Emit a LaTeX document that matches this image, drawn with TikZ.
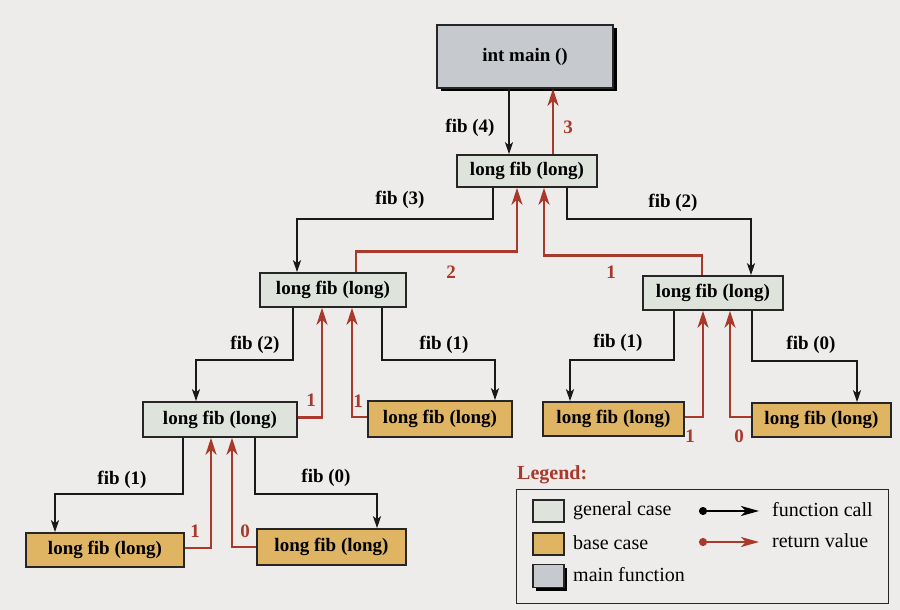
\documentclass[tikz,border=0pt]{standalone}
\usepackage{fontspec}
\setmainfont{Liberation Serif}
\usetikzlibrary{arrows.meta,shadows}
\definecolor{bgc}{HTML}{EDECEA}
\definecolor{retc}{HTML}{A8392B}
\definecolor{genc}{HTML}{DEE3DC}
\definecolor{basec}{HTML}{DFB564}
\definecolor{mainc}{HTML}{C6C9CD}
\tikzset{
  box/.style={draw=black!85, line width=1.6pt, inner sep=0pt, font=\fontsize{19}{22}\selectfont\bfseries},
  gen/.style={box, fill=genc},
  base/.style={box, fill=basec},
  mainbox/.style={box, fill=mainc, drop shadow={fill=black, opacity=1, shadow xshift=3.5pt, shadow yshift=-3.5pt}},
  call/.style={draw=black!90, line width=1.8pt, -{Stealth[length=12pt,width=8pt,inset=3pt]}},
  ret/.style={draw=retc, line width=2.6pt, -{Stealth[length=17pt,width=11pt,inset=5pt]}},
  lab/.style={font=\fontsize{19}{22}\selectfont\bfseries, inner sep=0pt},
  rlab/.style={font=\fontsize{19}{22}\selectfont\bfseries, text=retc, inner sep=0pt},
  legtext/.style={font=\fontsize{20}{22}\selectfont, inner sep=0pt, anchor=west}
}
\begin{document}
\begin{tikzpicture}[x=1pt,y=-1pt]
\fill[bgc] (0,0) rectangle (900,610);
\useasboundingbox (0,0) rectangle (900,610);
% nodes
\node[mainbox, minimum width=176pt, minimum height=63pt] (main) at (525,56.5) {int main ()};
\node[gen, minimum width=140pt, minimum height=32pt] (A) at (527,171) {long fib (long)};
\node[gen, minimum width=146pt, minimum height=34pt] (B) at (333,290) {long fib (long)};
\node[gen, minimum width=140pt, minimum height=34pt] (C) at (713,293) {long fib (long)};
\node[gen, minimum width=154pt, minimum height=35pt] (D) at (220,419.5) {long fib (long)};
\node[base, minimum width=144pt, minimum height=36pt] (E) at (440,419) {long fib (long)};
\node[base, minimum width=141pt, minimum height=34pt] (F) at (613.5,419) {long fib (long)};
\node[base, minimum width=139pt, minimum height=34pt] (G) at (821.5,420) {long fib (long)};
\node[base, minimum width=158pt, minimum height=34pt] (H) at (105,550) {long fib (long)};
\node[base, minimum width=149pt, minimum height=36pt] (I) at (331.5,547) {long fib (long)};
% calls
\draw[call] ([xshift=-16]main.south) -- ([xshift=-16]main.south |- A.north);
\draw[call] ([xshift=-34]A.south) -- ++(0,31) -| ([xshift=-36]B.north);
\draw[call] ([xshift=40]A.south) -- ++(0,31) -| ([xshift=38]C.north);
\draw[call] ([xshift=-40]B.south) -- ++(0,52) -| ([xshift=-24]D.north);
\draw[call] ([xshift=49]B.south) -- ++(0,52) -| ([xshift=55]E.north);
\draw[call] ([xshift=-39]C.south) -- ++(0,49) -| ([xshift=-43.5]F.north);
\draw[call] ([xshift=39]C.south) -- ++(0,50) -| ([xshift=35.5]G.north);
\draw[call] ([xshift=-37]D.south) -- ++(0,56) -| ([xshift=-50]H.north);
\draw[call] ([xshift=35]D.south) -- ++(0,56) -| ([xshift=45.5]I.north);
% returns
\draw[ret] ([xshift=26]A.north) -- ([xshift=26]A.north |- main.south);
\draw[ret] ([xshift=23]B.north) -- ++(0,-21) -| ([xshift=-10]A.south);
\draw[ret] ([xshift=-11]C.north) -- ++(0,-20) -| ([xshift=17]A.south);
\draw[ret] ([yshift=2]D.east) -| ([xshift=-11]B.south);
\draw[ret] ([yshift=2]E.west) -| ([xshift=19]B.south);
\draw[ret] ([yshift=2]F.east) -| ([xshift=-10]C.south);
\draw[ret] ([yshift=3]G.west) -| ([xshift=17]C.south);
\draw[ret] ([yshift=2]H.east) -| ([xshift=-9]D.south);
\draw[ret] (I.west) -| ([xshift=12]D.south);
% labels
\node[lab] (l4) at (470,128) {fib (4)};
\node[rlab] (r3) at (568,127) {3};
\node[lab] (l3) at (400,200) {fib (3)};
\node[lab] (l2a) at (673,203) {fib (2)};
\node[rlab] (r2) at (451,272) {2};
\node[rlab] (r1a) at (611,272) {1};
\node[lab] (l2b) at (255,345) {fib (2)};
\node[lab] (l1a) at (444,345) {fib (1)};
\node[rlab] (r1b) at (311,400) {1};
\node[rlab] (r1c) at (358,401) {1};
\node[lab] (l1b) at (618,343) {fib (1)};
\node[lab] (l0a) at (811,345) {fib (0)};
\node[rlab] (r1d) at (690,436) {1};
\node[rlab] (r0a) at (739,436) {0};
\node[lab] (l1c) at (122,480) {fib (1)};
\node[lab] (l0b) at (326,478) {fib (0)};
\node[rlab] (r1e) at (195,531) {1};
\node[rlab] (r0b) at (245,531) {0};
% legend
\node[font=\fontsize{20}{22}\selectfont\bfseries, text=retc, anchor=west, inner sep=0pt] (legt) at (517,475) {Legend:};
\node[draw=black!85, line width=1.4pt, minimum width=372pt, minimum height=114pt, inner sep=0pt, anchor=north west] (leg) at (516,489) {};
\node[draw=black!85, line width=1.3pt, fill=genc, minimum width=31pt, minimum height=22pt, inner sep=0pt] (sg) at (548.5,511) {};
\node[draw=black!85, line width=1.3pt, fill=basec, minimum width=31pt, minimum height=22pt, inner sep=0pt] (sb) at (548.5,544) {};
\node[draw=black!85, line width=1.3pt, fill=mainc, minimum width=31pt, minimum height=23pt, inner sep=0pt, drop shadow={fill=black, opacity=1, shadow xshift=3pt, shadow yshift=-3pt}] (sm) at (548.5,576) {};
\node[legtext] (tg) at (573,511) {general case};
\node[legtext] (tb) at (573,543) {base case};
\node[legtext] (tm) at (573,575) {main function};
\coordinate (c1s) at (699,511);
\coordinate (c1e) at (759,511);
\coordinate (c2s) at (699,542);
\coordinate (c2e) at (759,542);
\draw[draw=black, line width=1.8pt, {Circle[length=8pt]}-{Stealth[length=18pt,width=10pt,inset=5pt]}] (c1s) -- (c1e);
\draw[draw=retc, line width=2.4pt, {Circle[length=8pt]}-{Stealth[length=18pt,width=10pt,inset=5pt]}] (c2s) -- (c2e);
\node[legtext] (tf) at (772,510) {function call};
\node[legtext] (tr) at (772,541) {return value};
\end{tikzpicture}
\end{document}
